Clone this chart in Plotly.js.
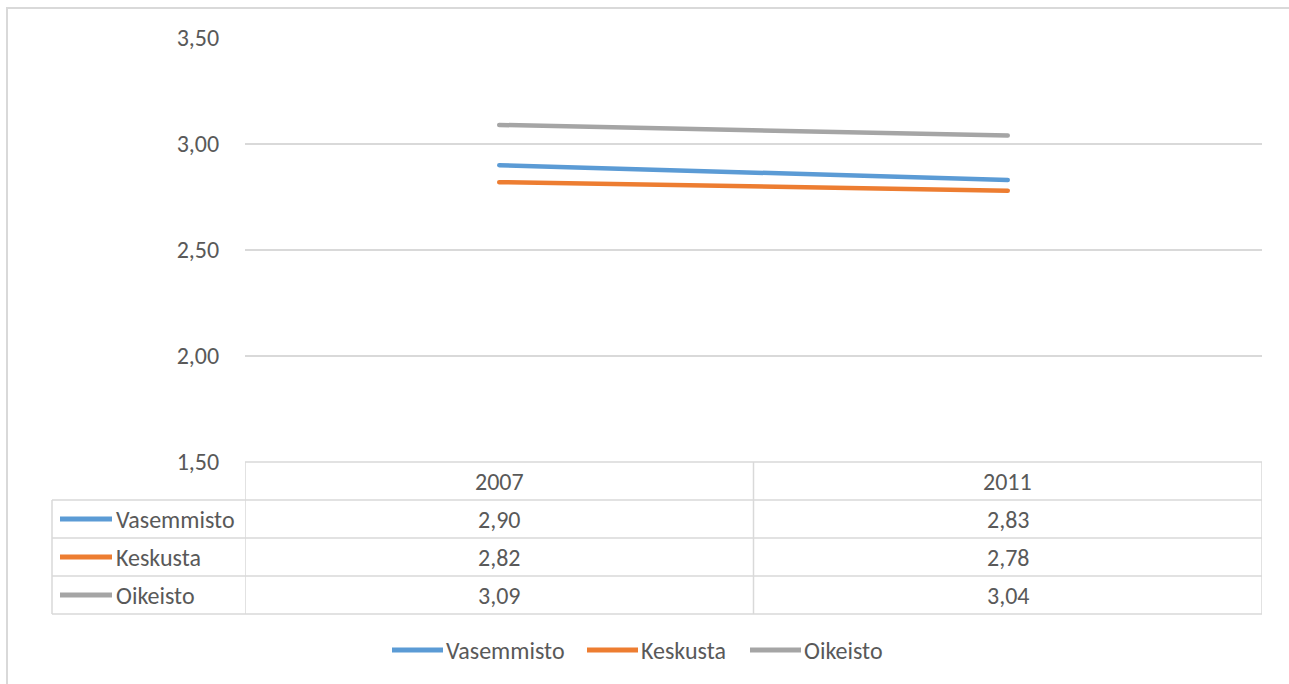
<!DOCTYPE html>
<html><head><meta charset="utf-8">
<script src="https://cdn.plot.ly/plotly-3.0.1.min.js"></script>
<style>html,body{margin:0;padding:0;background:#fff}#chart{width:1289px;height:684px}.js-line{stroke-linecap:round}</style>
</head><body><div id="chart"></div>
<script>
// ---- data ----
const years = ['2007', '2011'];
const seriesNames = ['Vasemmisto', 'Keskusta', 'Oikeisto'];
const vasemmisto = [2.90, 2.83];
const keskusta = [2.82, 2.78];
const oikeisto = [3.09, 3.04];
const yTickVals = [1.5, 2.0, 2.5, 3.0, 3.5];
const yTickText = ['1,50', '2,00', '2,50', '3,00', '3,50'];

// ---- style / layout ----
const seriesValues = [vasemmisto, keskusta, oikeisto];
const colors = ['#5B9BD5', '#ED7D31', '#A5A5A5'];
const textColor = '#595959';
const gridColor = '#D9D9D9';
const FONT = 'Carlito, Lato, "Open Sans", sans-serif';
const FS = 24;
const W = 1289, H = 684, L = 245, R = 1262, T = 38, B = 462;
const px = x => (x - L) / (R - L);
const py = y => (B - y) / (B - T);

const traces = seriesNames.map((name, i) => ({
  type: 'scatter', mode: 'lines', name: name,
  x: years, y: seriesValues[i],
  line: {color: colors[i], width: 4.5},
  showlegend: false, hoverinfo: 'skip'
}));

const fmt = v => v.toFixed(2).replace('.', ',');
const shapes = [];
const annotations = [];
const gl = {color: gridColor, width: 1.5};

// outer chart border
shapes.push({type: 'rect', xref: 'paper', yref: 'paper', x0: px(7), x1: px(1310), y0: py(8), y1: py(710), line: {color: gridColor, width: 2}, fillcolor: 'rgba(0,0,0,0)', layer: 'below'});

// data table
const rowTops = [462, 500, 538, 576, 614];
shapes.push({type: 'line', xref: 'paper', yref: 'paper', x0: px(L), x1: px(R), y0: py(462), y1: py(462), line: gl});
for (let k = 1; k < rowTops.length; k++) {
  shapes.push({type: 'line', xref: 'paper', yref: 'paper', x0: px(52), x1: px(R), y0: py(rowTops[k]), y1: py(rowTops[k]), line: gl});
}
shapes.push({type: 'line', xref: 'paper', yref: 'paper', x0: px(52), x1: px(52), y0: py(500), y1: py(614), line: gl});
[-0.5, 0.5, 1.5].forEach(xv => {
  shapes.push({type: 'line', xref: 'x', yref: 'paper', x0: xv, x1: xv, y0: py(462), y1: py(614), line: gl});
});
const rowMid = k => (rowTops[k] + rowTops[k + 1]) / 2;
years.forEach((yr, j) => {
  annotations.push({xref: 'x', yref: 'paper', x: j, y: py(rowMid(0)), text: yr, showarrow: false, xanchor: 'center', yanchor: 'middle'});
});
seriesNames.forEach((name, i) => {
  const ym = py(rowMid(i + 1));
  shapes.push({type: 'line', xref: 'paper', yref: 'paper', x0: px(60), x1: px(112), y0: ym, y1: ym, line: {color: colors[i], width: 5}});
  annotations.push({xref: 'paper', yref: 'paper', x: px(114), y: ym, text: name, showarrow: false, xanchor: 'left', yanchor: 'middle'});
  seriesValues[i].forEach((v, j) => {
    annotations.push({xref: 'x', yref: 'paper', x: j, y: ym, text: fmt(v), showarrow: false, xanchor: 'center', yanchor: 'middle'});
  });
});

// legend
const legY = py(650);
const legX = [392, 587, 750];
seriesNames.forEach((name, i) => {
  shapes.push({type: 'line', xref: 'paper', yref: 'paper', x0: px(legX[i]), x1: px(legX[i] + 51), y0: legY, y1: legY, line: {color: colors[i], width: 5}});
  annotations.push({xref: 'paper', yref: 'paper', x: px(legX[i] + 52), y: legY, text: name, showarrow: false, xanchor: 'left', yanchor: 'middle'});
});

const layout = {
  width: W, height: H,
  margin: {l: L, r: W - R, t: T, b: H - B},
  paper_bgcolor: '#fff', plot_bgcolor: '#fff',
  font: {family: FONT, size: FS, color: textColor},
  showlegend: false,
  xaxis: {type: 'category', range: [-0.5, 1.5], showticklabels: false, showgrid: false, zeroline: false, showline: false, fixedrange: true},
  yaxis: {range: [1.5, 3.5], tickvals: yTickVals, ticktext: yTickText, showgrid: true, gridcolor: gridColor, gridwidth: 1.5,
          zeroline: false, showline: false, ticks: 'outside', ticklen: 20, tickcolor: 'rgba(0,0,0,0)',
          tickfont: {family: FONT, size: FS, color: textColor}, fixedrange: true},
  shapes: shapes,
  annotations: annotations
};

Plotly.newPlot('chart', traces, layout, {displayModeBar: false, staticPlot: true});
</script>
</body></html>
